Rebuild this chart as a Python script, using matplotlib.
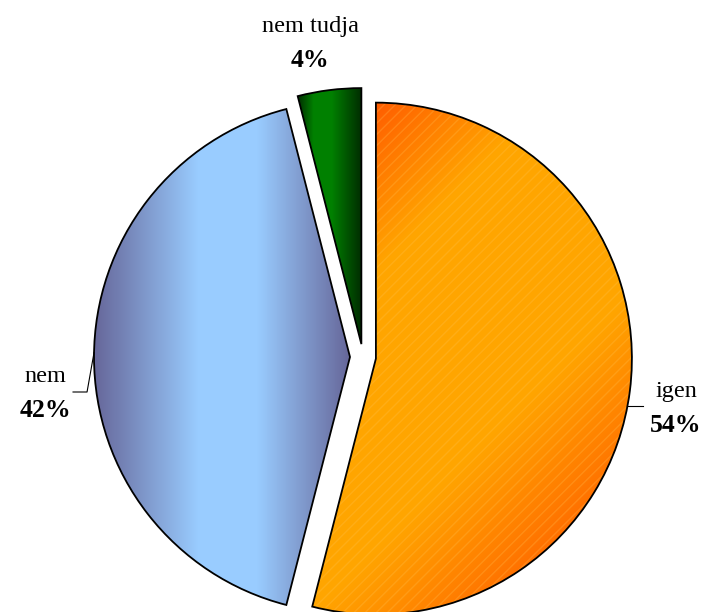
import numpy as np
import matplotlib
matplotlib.use("Agg")
import matplotlib.pyplot as plt
from matplotlib.patches import PathPatch

# data
labels = ["igen", "nem", "nem tudja"]
values = [54, 42, 4]

W, H = 703, 612
plt.rcParams["font.family"] = ["Liberation Serif", "DejaVu Serif"]
plt.rcParams["hatch.linewidth"] = 1.0

fig = plt.figure(figsize=(W / 100, H / 100), dpi=100)
ax = fig.add_axes([0, 0, 1, 1])

cx, cy, R = 363, 357, 256
# explode is in data units here (pixels)
wedges, _ = ax.pie(values, center=(cx, cy), radius=R, startangle=-90,
                   counterclock=True, explode=[13] * 3,
                   wedgeprops=dict(facecolor="none", edgecolor="black", linewidth=1.3),
                   frame=True)
ax.set_xlim(0, W)
ax.set_ylim(H, 0)  # y down, like the picture
ax.set_aspect("equal")
ax.axis("off")

X, Y = np.meshgrid(np.arange(W) + 0.5, np.arange(H) + 0.5)


def wedge_bbox(w):
    th = np.radians(np.linspace(w.theta1, w.theta2, 200))
    xs = np.r_[w.center[0], w.center[0] + w.r * np.cos(th)]
    ys = np.r_[w.center[1], w.center[1] + w.r * np.sin(th)]
    return xs.min(), xs.max(), ys.min(), ys.max()


def blend(dark, light, f):
    dark = np.array(dark) / 255
    light = np.array(light) / 255
    img = dark[None, None, :] + (light - dark)[None, None, :] * f[..., None]
    return np.clip(img, 0, 1)


def peak(t, c, gain):
    d = np.where(t < c, (c - t) / c, (t - c) / (1 - c))
    return np.clip(gain * (1 - d), 0, 1)


# orange slice: diagonal gradient + fine stripes
w = wedges[0]
x0, x1, y0, y1 = wedge_bbox(w)
t = ((X - x0) + (Y - y0)) / ((x1 - x0) + (y1 - y0))
img = blend((255, 65, 0), (255, 165, 0), peak(t, 0.42, 1.5))
im = ax.imshow(img, extent=(0, W, H, 0), zorder=1, interpolation="bilinear")
im.set_clip_path(w)
hatch = PathPatch(w.get_path(), facecolor="none", edgecolor=(1.0, 0.78, 0.35, 0.25),
                  linewidth=0, hatch="///", zorder=2)
ax.add_patch(hatch)
hatch.set_clip_path(w)

# blue slice: horizontal gradient, light in the middle
w = wedges[1]
x0, x1, y0, y1 = wedge_bbox(w)
t = np.clip((X - x0) / (x1 - x0), 0, 1)
img = blend((102, 102, 153), (153, 204, 255), peak(t, 0.53, 1.3))
im = ax.imshow(img, extent=(0, W, H, 0), zorder=1, interpolation="bilinear")
im.set_clip_path(w)

# green slice
w = wedges[2]
x0, x1, y0, y1 = wedge_bbox(w)
t = np.clip((X - x0) / (x1 - x0), 0, 1)
img = blend((0, 45, 0), (0, 128, 0), peak(t, 0.35, 1.4))
im = ax.imshow(img, extent=(0, W, H, 0), zorder=1, interpolation="bilinear")
im.set_clip_path(w)

for w in wedges:
    w.set_zorder(3)

# labels
label_pos = {"igen": (676, 397), "nem": (45, 382), "nem tudja": (310, 32)}
for lab, v in zip(labels, values):
    x, y = label_pos[lab]
    ax.text(x, y, lab, ha="center", va="baseline", fontsize=17.5)
    ax.text(x, y + 35, f"{v}%", ha="center", va="baseline", fontsize=18.5,
            fontweight="bold")

# leader lines
wn = wedges[1]
a = np.radians(181)
ex, ey = wn.center[0] + wn.r * np.cos(a), wn.center[1] + wn.r * np.sin(a)
ax.plot([ex, ex - 7, ex - 21], [ey, 392, 392], color="black", lw=0.8, zorder=4)

wi = wedges[0]
yy = 406
ex = wi.center[0] + np.sqrt(wi.r ** 2 - (yy - wi.center[1]) ** 2)
ax.plot([ex, ex + 16], [yy, yy], color="black", lw=0.8, zorder=4)

fig.savefig("out.png", dpi=100, facecolor="white")
